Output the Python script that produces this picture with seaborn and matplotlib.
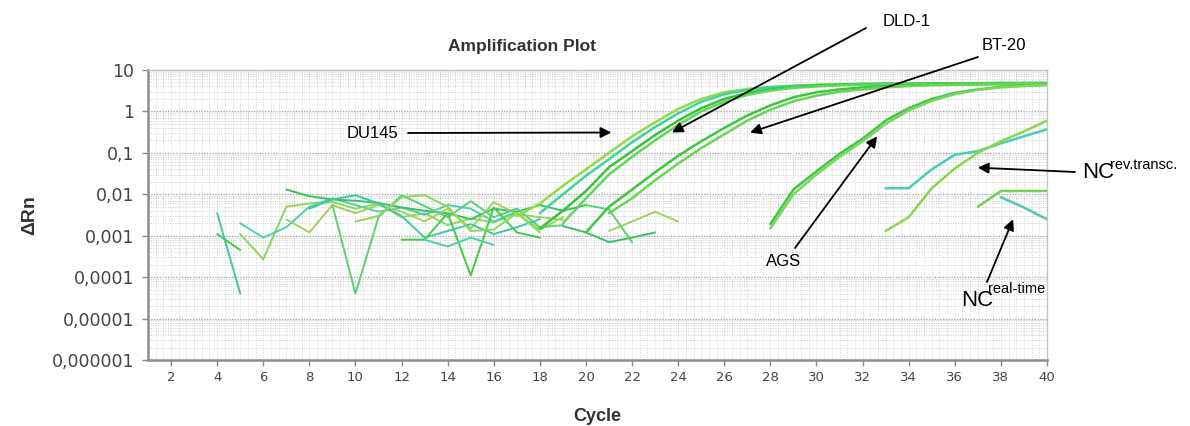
import numpy as np
import pandas as pd
import matplotlib
matplotlib.use("Agg")
import matplotlib.pyplot as plt
import seaborn as sns
from matplotlib.ticker import FixedLocator, NullFormatter

# ---------------- data ----------------
X_TICKS = list(range(2, 41, 2))
Y_TICKS = [1e-6, 1e-5, 1e-4, 1e-3, 1e-2, 1e-1, 1, 10]
Y_TICK_LABELS = ["0,000001", "0,00001", "0,0001", "0,001", "0,01", "0,1", "1", "10"]

# amplification curves: first cycle + delta Rn values per cycle
DU145_A_START = 17
DU145_A = [0.003, 0.006, 0.016, 0.04, 0.1, 0.25, 0.55, 1.15, 2.0, 2.9, 3.5, 3.9, 4.2, 4.4,
           4.5, 4.6, 4.6, 4.7, 4.7, 4.7, 4.8, 4.8, 4.8, 4.8]
DU145_B_START = 18
DU145_B = [0.0035, 0.01, 0.028, 0.07, 0.18, 0.42, 0.9, 1.7, 2.6, 3.3, 3.8, 4.1, 4.3, 4.5,
           4.6, 4.7, 4.7, 4.8, 4.8, 4.8, 4.9, 4.9, 4.9]
DLD1_A_START = 18
DLD1_A = [0.0015, 0.004, 0.012, 0.045, 0.11, 0.27, 0.6, 1.2, 2.0, 2.8, 3.4, 3.9, 4.2, 4.4,
          4.5, 4.6, 4.6, 4.7, 4.7, 4.7, 4.8, 4.8, 4.8]
DLD1_B_START = 19
DLD1_B = [0.002, 0.008, 0.03, 0.08, 0.2, 0.47, 1.0, 1.7, 2.5, 3.2, 3.7, 4.0, 4.3, 4.4,
          4.5, 4.6, 4.6, 4.7, 4.7, 4.7, 4.8, 4.8]
BT20_A_START = 20
BT20_A = [0.0012, 0.005, 0.013, 0.034, 0.085, 0.19, 0.4, 0.8, 1.4, 2.2, 2.9, 3.4, 3.8, 4.1,
          4.3, 4.4, 4.5, 4.5, 4.6, 4.6, 4.6]
BT20_B_START = 21
BT20_B = [0.0035, 0.008, 0.022, 0.055, 0.13, 0.28, 0.6, 1.1, 1.75, 2.4, 3.0, 3.4, 3.8, 4.1,
          4.3, 4.4, 4.5, 4.5, 4.6, 4.6]
AGS_A_START = 28
AGS_A = [0.0019, 0.013, 0.036, 0.095, 0.22, 0.6, 1.2, 2.0, 2.8, 3.4, 3.9, 4.2, 4.4]
AGS_B_START = 28
AGS_B = [0.0015, 0.01, 0.03, 0.08, 0.19, 0.5, 1.05, 1.8, 2.6, 3.3, 3.8, 4.1, 4.35]
NC_RT_CYAN_START = 33
NC_RT_CYAN = [0.014, 0.014, 0.04, 0.09, 0.11, 0.17, 0.25, 0.37]
NC_RT_GREEN_START = 33
NC_RT_GREEN = [0.0013, 0.0028, 0.014, 0.042, 0.1, 0.19, 0.33, 0.6]
NC_REAL_GREEN_START = 37
NC_REAL_GREEN = [0.005, 0.012, 0.012, 0.012]
NC_REAL_CYAN_START = 38
NC_REAL_CYAN = [0.0085, 0.0048, 0.0025]

# background noise segments (first cycle + values)
NOISE_1 = (4, [0.0035, 0.00004])
NOISE_2 = (4, [0.0011, 0.00045])
NOISE_3 = (5, [0.0011, 0.00027, 0.005, 0.006, 0.0065, 0.0045, 0.006, 0.0028, 0.0035, 0.0018,
               0.0026, 0.0021, 0.0035, 0.0014, 0.0028])
NOISE_4 = (5, [0.002, 0.0009, 0.0016, 0.005, 0.008, 0.0055, 0.0038, 0.0048, 0.0032, 0.0055,
               0.0045, 0.0022, 0.0038])
NOISE_5 = (7, [0.013, 0.009, 0.0075, 0.007, 0.0062, 0.0048, 0.004, 0.0035, 0.0025, 0.0045,
               0.0038, 0.0055, 0.004, 0.0055])
NOISE_6 = (7, [0.0025, 0.0012, 0.0055, 0.0035, 0.0055, 0.0038, 0.0022, 0.0045, 0.0015, 0.0065,
               0.0033, 0.0028, 0.0024])
NOISE_7 = (9, [0.0055, 0.00004, 0.0028, 0.0095, 0.0052, 0.0028, 0.0068, 0.0028, 0.0045, 0.0016,
               0.0018])
NOISE_8 = (8, [0.0045, 0.0075, 0.0095, 0.006, 0.003, 0.0009, 0.0013, 0.0019, 0.0011, 0.0016,
               0.0025])
NOISE_9 = (12, [0.0008, 0.0008, 0.0035, 0.00011, 0.0048, 0.0012, 0.0009])
NOISE_10 = (10, [0.0022, 0.003, 0.0085, 0.0095, 0.005, 0.0013, 0.0014, 0.0035, 0.0012])
NOISE_11 = (13, [0.0008, 0.00055, 0.0009, 0.0006])
NOISE_12 = (19, [0.0017, 0.0012, 0.0007, 0.0009, 0.0012])
NOISE_13 = (21, [0.0013, 0.0022, 0.0038, 0.0022])
NOISE_14 = (20, [0.0055, 0.0043, 0.0007])

# ---------------- styling ----------------
AMP_COLORS = {
    "DU145_A": "#8edc4c", "DU145_B": "#3fd3a0", "DLD1_A": "#36c43a", "DLD1_B": "#5cd85a",
    "BT20_A": "#3cc83c", "BT20_B": "#6ad457", "AGS_A": "#40c840", "AGS_B": "#7ad862",
    "NC_RT_CYAN": "#48ccb8", "NC_RT_GREEN": "#86d850", "NC_REAL_GREEN": "#72d052",
    "NC_REAL_CYAN": "#4ec8b0",
}
NOISE_PALETTE = ["#3cc8a8", "#44cc44", "#8cd855", "#4ccfb4", "#3ac060", "#a2d060", "#5cd070"]

amp_series = [
    ("DU145_A", DU145_A_START, DU145_A), ("DU145_B", DU145_B_START, DU145_B),
    ("DLD1_A", DLD1_A_START, DLD1_A), ("DLD1_B", DLD1_B_START, DLD1_B),
    ("BT20_A", BT20_A_START, BT20_A), ("BT20_B", BT20_B_START, BT20_B),
    ("AGS_A", AGS_A_START, AGS_A), ("AGS_B", AGS_B_START, AGS_B),
    ("NC_RT_CYAN", NC_RT_CYAN_START, NC_RT_CYAN), ("NC_RT_GREEN", NC_RT_GREEN_START, NC_RT_GREEN),
    ("NC_REAL_GREEN", NC_REAL_GREEN_START, NC_REAL_GREEN),
    ("NC_REAL_CYAN", NC_REAL_CYAN_START, NC_REAL_CYAN),
]
noise_series = [NOISE_1, NOISE_2, NOISE_3, NOISE_4, NOISE_5, NOISE_6, NOISE_7,
                NOISE_8, NOISE_9, NOISE_10, NOISE_11, NOISE_12, NOISE_13, NOISE_14]

rows = []
for name, start, vals in amp_series:
    for i, v in enumerate(vals):
        rows.append({"trace": name, "cycle": start + i, "drn": v})
amp_df = pd.DataFrame(rows)

rows = []
noise_colors = {}
for k, (start, vals) in enumerate(noise_series):
    name = f"noise{k + 1}"
    noise_colors[name] = NOISE_PALETTE[k % len(NOISE_PALETTE)]
    for i, v in enumerate(vals):
        rows.append({"trace": name, "cycle": start + i, "drn": v})
noise_df = pd.DataFrame(rows)

sns.set_theme(style="white")
plt.rcParams["font.family"] = ["Liberation Sans", "DejaVu Sans"]

W, H = 1190, 426
fig = plt.figure(figsize=(W / 100, H / 100), dpi=100)
ax = fig.add_axes([148 / W, (H - 360) / H, (1047 - 148) / W, (360 - 70) / H])

ax.set_yscale("log")
ax.set_xlim(1, 40)
ax.set_ylim(1e-6, 10)

# grid texture
minor_y = [m * 10.0 ** e for e in range(-6, 1) for m in range(2, 10)]
for yv in minor_y:
    ax.axhline(yv, color="#cfcfcf", lw=0.7, ls=(0, (1, 1.5)), zorder=0)
for yv in Y_TICKS:
    ax.axhline(yv, color="#a8a8a8", lw=1.0, ls=(0, (1, 1)), zorder=0)
for xv in np.arange(1, 40.01, 1 / 3):
    ax.axvline(xv, color="#d2d2d2", lw=0.7, ls=(0, (1, 1.5)), zorder=0)

sns.lineplot(data=noise_df, x="cycle", y="drn", hue="trace", palette=noise_colors,
             estimator=None, sort=False, legend=False, lw=1.4, ax=ax, zorder=2)
sns.lineplot(data=amp_df, x="cycle", y="drn", hue="trace", palette=AMP_COLORS,
             estimator=None, sort=False, legend=False, lw=1.8, ax=ax, zorder=3)

ax.xaxis.set_major_locator(FixedLocator(X_TICKS))
ax.set_xticklabels([str(t) for t in X_TICKS])
ax.yaxis.set_major_locator(FixedLocator(Y_TICKS))
ax.set_yticklabels(Y_TICK_LABELS)
ax.yaxis.set_minor_formatter(NullFormatter())
ax.tick_params(axis="y", which="minor", length=0)
ax.tick_params(axis="x", which="major", direction="out", length=4, width=1, color="#888888",
               labelsize=9.5, labelcolor="#444444", pad=4, bottom=True)
ax.tick_params(axis="y", which="major", direction="out", length=4, width=1, color="#888888",
               labelsize=12.5, labelcolor="#444444", pad=6, left=True)
for lbl in ax.get_xticklabels():
    lbl.set_fontfamily(["DejaVu Sans"])
for lbl in ax.get_yticklabels():
    lbl.set_fontfamily(["DejaVu Sans"])

for side in ["left", "bottom"]:
    ax.spines[side].set_color("#8c8c8c")
    ax.spines[side].set_linewidth(1.8)
for side in ["top", "right"]:
    ax.spines[side].set_color("#c4c4c4")
    ax.spines[side].set_linewidth(1.0)

ax.set_xlabel("Cycle", fontsize=13, fontweight="bold", color="#333333")
ax.set_ylabel("ΔRn", fontsize=14, fontweight="bold", color="#333333")
ax.xaxis.set_label_coords(0.5, -0.165)
ax.yaxis.set_label_coords(-0.122, 0.5)

fig.text(522 / W, 1 - 47 / H, "Amplification Plot", ha="center", va="center",
         fontsize=12.5, fontweight="bold", color="#333333")

# annotations: arrows (tip in data coords, tail in figure pixels)
arrow_kw = dict(arrowstyle="-|>", color="black", lw=1.3, mutation_scale=16,
                shrinkA=0, shrinkB=0)
arrows = [
    ((21.1, 0.31), (408, H - 133)),
    ((23.73, 0.31), (866, H - 28)),
    ((27.12, 0.31), (978, H - 57)),
    ((32.63, 0.25), (795, H - 248)),
    ((37.0, 0.044), (1075, H - 172)),
    ((38.53, 0.0025), (987, H - 282)),
]
for tip, tail in arrows:
    ax.annotate("", xy=tip, xycoords="data", xytext=tail, textcoords="figure pixels",
                arrowprops=arrow_kw, annotation_clip=False)

lab_kw = dict(color="black", va="center")
fig.text(347 / W, 1 - 133 / H, "DU145", ha="left", fontsize=12, **lab_kw)
fig.text(883 / W, 1 - 22 / H, "DLD-1", ha="left", fontsize=12, **lab_kw)
fig.text(982 / W, 1 - 45 / H, "BT-20", ha="left", fontsize=12, **lab_kw)
fig.text(784 / W, 1 - 262 / H, "AGS", ha="center", fontsize=12, **lab_kw)
fig.text(1082 / W, 1 - 173 / H, "NC", ha="left", fontsize=16, **lab_kw)
fig.text(1110 / W, 1 - 165 / H, "rev.transc.", ha="left", fontsize=10.5, **lab_kw)
fig.text(961 / W, 1 - 300 / H, "NC", ha="left", fontsize=16, **lab_kw)
fig.text(988 / W, 1 - 289 / H, "real-time", ha="left", fontsize=10.5, **lab_kw)

fig.savefig("out.png", dpi=100, facecolor="white")
